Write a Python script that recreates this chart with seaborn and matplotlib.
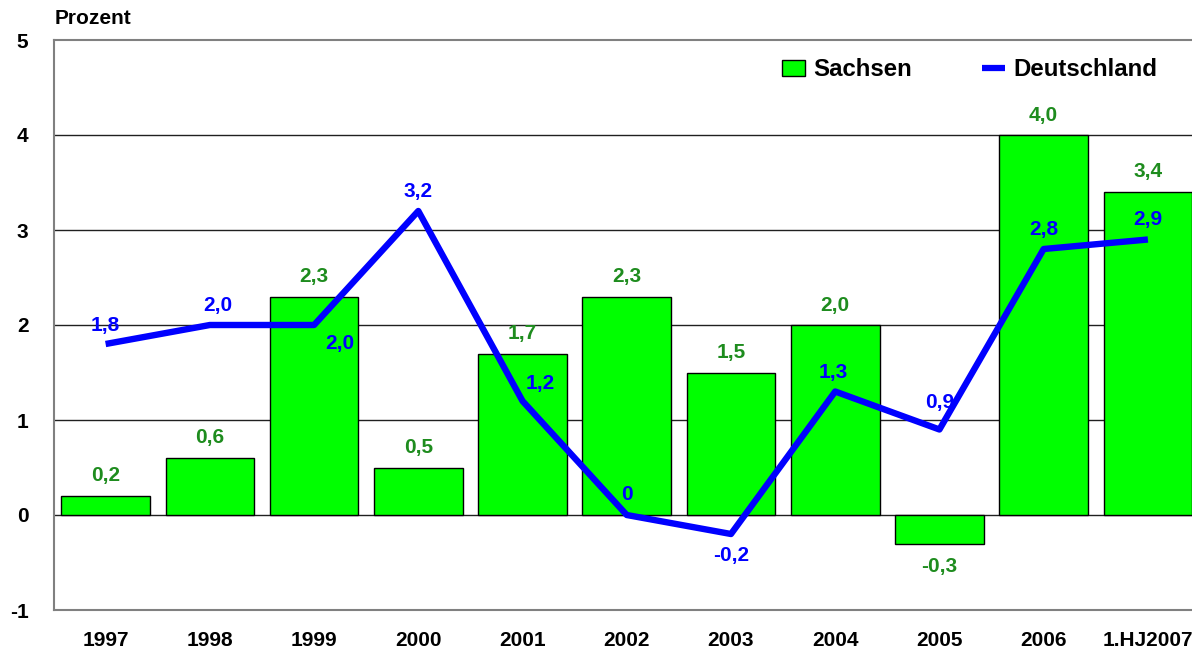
import matplotlib
matplotlib.use("Agg")
import matplotlib.pyplot as plt
import seaborn as sns
import numpy as np
import pandas as pd
from matplotlib.patches import Patch
from matplotlib.lines import Line2D

categories = ["1997", "1998", "1999", "2000", "2001", "2002", "2003", "2004", "2005", "2006", "1.HJ2007"]
sachsen = [0.2, 0.6, 2.3, 0.5, 1.7, 2.3, 1.5, 2.0, -0.3, 4.0, 3.4]
deutschland = [1.8, 2.0, 2.0, 3.2, 1.2, 0.0, -0.2, 1.3, 0.9, 2.8, 2.9]
sachsen_labels = ["0,2", "0,6", "2,3", "0,5", "1,7", "2,3", "1,5", "2,0", "-0,3", "4,0", "3,4"]
deutschland_labels = ["1,8", "2,0", "2,0", "3,2", "1,2", "0", "-0,2", "1,3", "0,9", "2,8", "2,9"]
# label offsets in pixels for the Deutschland labels
de_offsets = [(0, 18), (8, 19), (26, -19), (0, 20), (18, 17), (0, 20), (0, -21), (-2, 19), (0, 27), (0, 20), (0, 20)]

sns.set_theme(style="white")
plt.rcParams['font.family'] = ['Liberation Sans', 'DejaVu Sans']
plt.rcParams['font.weight'] = 'bold'
plt.rcParams['text.color'] = 'black'
plt.rcParams['xtick.color'] = 'black'
plt.rcParams['ytick.color'] = 'black'

fig = plt.figure(figsize=(11.92, 6.51), dpi=100)
ax = fig.add_axes([53.5 / 1192, 41 / 651, (1200 - 53.5) / 1192, 570 / 651])

df = pd.DataFrame({"Jahr": categories, "Sachsen": sachsen, "Deutschland": deutschland})

for v in [0, 1, 2, 3, 4]:
    ax.axhline(v, color="#202020", lw=1.0, zorder=0)

sns.barplot(data=df, x="Jahr", y="Sachsen", color="#00FF00", saturation=1,
            edgecolor="black", linewidth=1.0, width=0.85, ax=ax, zorder=2)

sns.lineplot(x=np.arange(len(categories)), y=df["Deutschland"], color="#0000FF",
             lw=4.6, ax=ax, zorder=3, sort=False, solid_capstyle="butt")

ax.set_xlim(-0.5, len(categories) - 0.5)
ax.set_ylim(-1, 5)
ax.set_yticks([-1, 0, 1, 2, 3, 4, 5])
ax.set_yticklabels(["-1", "0", "1", "2", "3", "4", "5"])
ax.set_xlabel("")
ax.set_ylabel("")
ax.tick_params(axis="both", length=0, labelsize=15, labelcolor="black")
ax.tick_params(axis="y", pad=18)
ax.tick_params(axis="x", pad=15)
for lab in ax.get_xticklabels() + ax.get_yticklabels():
    lab.set_fontweight("bold")

for side in ["left", "bottom", "top"]:
    ax.spines[side].set_color("#808080")
    ax.spines[side].set_linewidth(1.5)
ax.spines["right"].set_visible(False)

for i, (v, t) in enumerate(zip(sachsen, sachsen_labels)):
    dy = 20 if v >= 0 else -23
    ax.annotate(t, (i, v), xytext=(0, dy), textcoords="offset pixels",
                ha="center", va="center", color="#1E8C1E", fontsize=15,
                fontweight="bold", zorder=5)

for i, (v, t) in enumerate(zip(deutschland, deutschland_labels)):
    dx, dy = de_offsets[i]
    ax.annotate(t, (i, v), xytext=(dx, dy), textcoords="offset pixels",
                ha="center", va="center", color="#0000FF", fontsize=15,
                fontweight="bold", zorder=5)

fig.text(55 / 1192, 1 - 19 / 651, "Prozent", ha="left", va="center",
         fontsize=15, fontweight="bold", color="black")

handles = [Patch(facecolor="#00FF00", edgecolor="black", linewidth=1.0),
           Line2D([0], [0], color="#0000FF", lw=4.5, solid_capstyle="butt")]
fig.legend(handles, ["Sachsen", "Deutschland"], loc="center left",
           bbox_to_anchor=(760 / 1192, 1 - 70 / 651), ncol=2, frameon=False,
           prop={"size": 17.3, "weight": "bold"}, handlelength=0.96, handleheight=0.62,
           columnspacing=2.9, handletextpad=0.35, labelcolor="black")

fig.savefig("out.png", dpi=100)
